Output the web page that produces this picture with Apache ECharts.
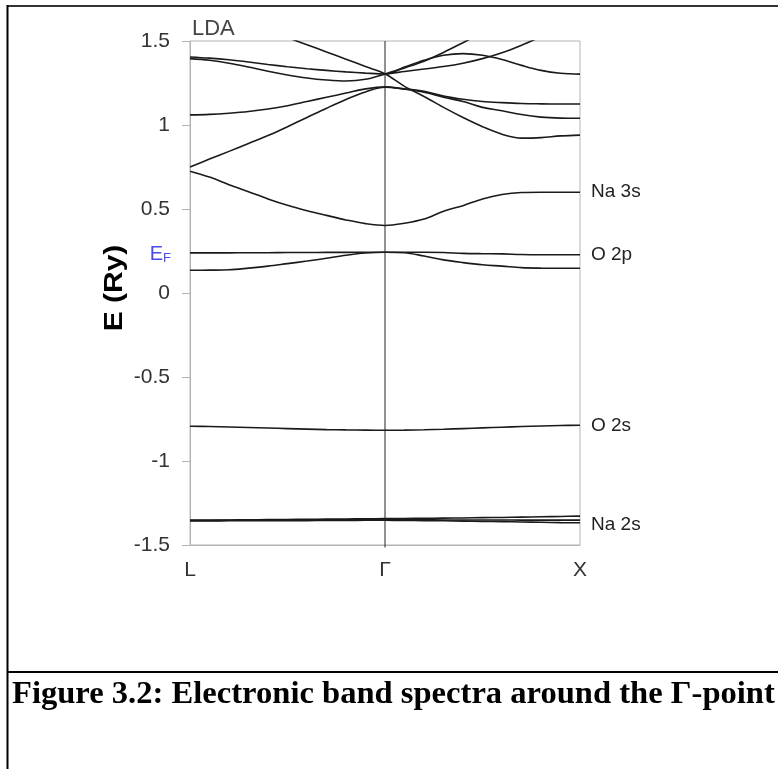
<!DOCTYPE html>
<html>
<head>
<meta charset="utf-8">
<title>Band spectra</title>
<script src="https://cdn.jsdelivr.net/npm/echarts@6/dist/echarts.min.js"></script>
<style>
  html, body { margin: 0; padding: 0; background: #fff; }
  #chart { width: 778px; height: 769px; }
</style>
</head>
<body>
<div id="chart"></div>
<script>
// k path: L (0) -> Gamma (1) -> X (2)
const kPath = [0, 0.1, 0.2, 0.3, 0.4, 0.5, 0.6, 0.7, 0.8, 0.9, 1.0,
               1.1, 1.2, 1.3, 1.4, 1.5, 1.6, 1.7, 1.8, 1.9, 2.0];
const kLabels = ['L', 'Γ', 'X'];

// energies in Ry, one value per kPath point (null = off chart)
const na2sA = [-1.352, -1.352, -1.351, -1.350, -1.349, -1.348, -1.347, -1.346, -1.345, -1.344, -1.343,
               -1.342, -1.341, -1.340, -1.339, -1.337, -1.336, -1.334, -1.332, -1.330, -1.328];
const na2sB = [-1.354, -1.354, -1.353, -1.353, -1.352, -1.352, -1.351, -1.351, -1.350, -1.350, -1.350,
               -1.350, -1.350, -1.351, -1.351, -1.351, -1.351, -1.352, -1.352, -1.352, -1.352];
const na2sC = [-1.357, -1.357, -1.356, -1.356, -1.355, -1.355, -1.355, -1.354, -1.354, -1.353, -1.353,
               -1.354, -1.355, -1.356, -1.358, -1.360, -1.361, -1.363, -1.365, -1.367, -1.368];
const o2s = [-0.793, -0.795, -0.798, -0.801, -0.804, -0.807, -0.810, -0.813, -0.815, -0.816, -0.817,
             -0.816, -0.814, -0.811, -0.807, -0.803, -0.799, -0.795, -0.792, -0.789, -0.787];
const o2pLow = [0.135, 0.136, 0.138, 0.148, 0.160, 0.175, 0.190, 0.207, 0.225, 0.238, 0.243,
                0.240, 0.220, 0.197, 0.181, 0.168, 0.160, 0.151, 0.148, 0.147, 0.147];
const o2pFlat = [0.239, 0.239, 0.239, 0.240, 0.240, 0.241, 0.241, 0.242, 0.242, 0.243, 0.243,
                 0.243, 0.243, 0.241, 0.236, 0.234, 0.233, 0.229, 0.228, 0.228, 0.228];
const na3s = [0.725, 0.690, 0.645, 0.603, 0.560, 0.522, 0.490, 0.462, 0.435, 0.413, 0.402,
              0.415, 0.440, 0.487, 0.520, 0.560, 0.586, 0.598, 0.600, 0.600, 0.600];
const bandD = [0.750, 0.797, 0.843, 0.890, 0.937, 0.990, 1.045, 1.100, 1.152, 1.197, 1.225,
               1.213, 1.195, 1.165, 1.140, 1.105, 1.085, 1.062, 1.047, 1.041, 1.040];
const bandE = [1.060, 1.063, 1.070, 1.080, 1.095, 1.115, 1.140, 1.165, 1.190, 1.215, 1.227,
               1.215, 1.200, 1.172, 1.153, 1.140, 1.133, 1.128, 1.126, 1.125, 1.125];
const bandF = [1.405, 1.398, 1.388, 1.375, 1.360, 1.347, 1.335, 1.325, 1.316, 1.309, 1.304,
               1.345, 1.385, 1.415, 1.425, 1.415, 1.390, 1.355, 1.325, 1.308, 1.303];
const bandG = [1.395, 1.385, 1.368, 1.345, 1.320, 1.298, 1.280, 1.268, 1.262, 1.272, 1.302,
               1.318, 1.333, 1.348, 1.368, 1.395, 1.430, 1.475, 1.525, null, null];
const bandH = [null, null, null, null, null, 1.520, 1.478, 1.435, 1.392, 1.348, 1.305,
               1.230, 1.170, 1.105, 1.045, 0.990, 0.945, 0.922, 0.925, 0.935, 0.940];
const bandI = [null, null, null, null, null, null, null, null, null, null, 1.303,
               1.340, 1.380, 1.432, 1.490, 1.550, null, null, null, null, null];

const bands = [na2sA, na2sB, na2sC, o2s, o2pLow, o2pFlat, na3s, bandD, bandE, bandF, bandG, bandH, bandI];

const stateNames = ['Na 3s', 'O 2p', 'O 2s', 'Na 2s'];
const stateEnergies = [0.60, 0.225, -0.79, -1.38];
const fermiLevel = 0.24;

const chart = echarts.init(document.getElementById('chart'));

const series = bands.map(function (b) {
    const pts = [];
    for (let i = 0; i < kPath.length; i++) {
        if (b[i] !== null) pts.push([kPath[i], b[i]]);
    }
    return {
        type: 'line',
        data: pts,
        smooth: 0.35,
        symbol: 'none',
        clip: true,
        lineStyle: { color: '#1a1a1a', width: 1.6 },
        silent: true
    };
});

// vertical line at Gamma
series.push({
    type: 'line',
    data: [[1, -1.515], [1, 1.5]],
    symbol: 'none',
    clip: false,
    lineStyle: { color: '#222', width: 1 },
    silent: true
});

chart.setOption({
    animation: false,
    grid: {
        left: 190, top: 41, width: 390, height: 504,
        show: true, borderColor: '#b4b4b4', borderWidth: 1
    },
    xAxis: {
        type: 'value', min: 0, max: 2, interval: 1,
        axisLine: { onZero: false, lineStyle: { color: '#b4b4b4' } },
        axisTick: { show: false },
        splitLine: { show: false },
        axisLabel: {
            margin: 15, color: '#333', fontSize: 21, fontFamily: 'Liberation Sans',
            formatter: function (v) { return kLabels[Math.round(v)]; }
        }
    },
    yAxis: {
        type: 'value', min: -1.5, max: 1.5, interval: 0.5,
        axisLine: { show: true, lineStyle: { color: '#b4b4b4' } },
        axisTick: { show: true, length: 8, lineStyle: { color: '#b4b4b4' } },
        splitLine: { show: false },
        axisLabel: {
            margin: 20, color: '#333', fontSize: 21, fontFamily: 'Liberation Sans',
            formatter: function (v) { return String(v); }
        }
    },
    series: series
});

const graphics = [];
stateNames.forEach(function (name, i) {
    const p = chart.convertToPixel({ gridIndex: 0 }, [2, stateEnergies[i]]);
    graphics.push({
        type: 'text', x: p[0] + 11, y: p[1],
        style: { text: name, fill: '#222', font: '19px "Liberation Sans"', verticalAlign: 'middle' }
    });
});

const ef = chart.convertToPixel({ gridIndex: 0 }, [0, fermiLevel]);
graphics.push({
    type: 'text', x: ef[0] - 19, y: ef[1] + 1,
    style: {
        text: '{e|E}{f|F}', align: 'right', verticalAlign: 'middle',
        rich: {
            e: { fill: '#4a4ae8', fontSize: 20, fontFamily: 'Liberation Sans', verticalAlign: 'bottom' },
            f: { fill: '#4a4ae8', fontSize: 13, fontFamily: 'Liberation Sans', padding: [9, 0, 0, 0] }
        }
    }
});

const topLeft = chart.convertToPixel({ gridIndex: 0 }, [0, 1.5]);
graphics.push({
    type: 'text', x: topLeft[0] + 2, y: topLeft[1] - 12,
    style: { text: 'LDA', fill: '#444', font: '22px "Liberation Sans"', verticalAlign: 'middle' }
});

// y axis title, stretched along its length like the original
const mid = chart.convertToPixel({ gridIndex: 0 }, [0, 0]);
graphics.push({
    type: 'text', x: 115, y: mid[1] - 5, rotation: Math.PI / 2, scaleX: 1.2,
    style: {
        text: 'E (Ry)', fill: '#000', font: 'bold 25px "Liberation Sans"',
        align: 'center', verticalAlign: 'middle'
    }
});

// page frame and caption
graphics.push(
    { type: 'line', shape: { x1: 7, y1: 6, x2: 778, y2: 6 }, style: { stroke: '#333', lineWidth: 2 } },
    { type: 'line', shape: { x1: 7.5, y1: 5, x2: 7.5, y2: 769 }, style: { stroke: '#000', lineWidth: 2 } },
    { type: 'line', shape: { x1: 7, y1: 672, x2: 778, y2: 672 }, style: { stroke: '#000', lineWidth: 2 } },
    {
        type: 'text', left: 12, top: 678,
        style: {
            text: 'Figure 3.2: Electronic band spectra around the Γ-point',
            fill: '#000', font: 'bold 32.6px "Liberation Serif"'
        }
    }
);

chart.setOption({ graphic: graphics });
</script>
</body>
</html>
